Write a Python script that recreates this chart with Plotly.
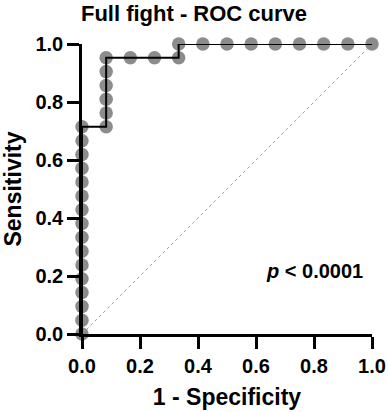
import plotly.graph_objects as go

# ROC points (1 - specificity, sensitivity)
fpr = [0.0, 0.0, 0.0, 0.0, 0.0, 0.0, 0.0, 0.0, 0.0, 0.0, 0.0, 0.0, 0.0, 0.0, 0.0, 0.0,
       0.0833, 0.0833, 0.0833, 0.0833, 0.0833, 0.0833,
       0.1667, 0.25, 0.3333,
       0.3333, 0.4167, 0.5, 0.5833, 0.6667, 0.75, 0.8333, 0.9167, 1.0]
tpr = [0.0, 0.0476, 0.0952, 0.1429, 0.1905, 0.2381, 0.2857, 0.3333, 0.381, 0.4286,
       0.4762, 0.5238, 0.5714, 0.619, 0.6667, 0.7143,
       0.7143, 0.7619, 0.8095, 0.8571, 0.9048, 0.9524,
       0.9524, 0.9524, 0.9524,
       1.0, 1.0, 1.0, 1.0, 1.0, 1.0, 1.0, 1.0, 1.0]
diag_x = [0.0, 1.0]
diag_y = [0.0, 1.0]
tick_vals = [0.0, 0.2, 0.4, 0.6, 0.8, 1.0]
tick_text = ["0.0", "0.2", "0.4", "0.6", "0.8", "1.0"]

FONT = "Liberation Sans, Arial, sans-serif"

fig = go.Figure()
fig.add_trace(go.Scatter(x=diag_x, y=diag_y, mode="lines",
                         line=dict(color="#c98a98", width=1, dash="dot"),
                         hoverinfo="skip", cliponaxis=False))
fig.add_trace(go.Scatter(x=fpr, y=tpr, mode="markers",
                         marker=dict(color="#8c8c8c", size=13.5, line=dict(width=0)),
                         cliponaxis=False))
fig.add_trace(go.Scatter(x=fpr, y=tpr, mode="lines",
                         line=dict(color="black", width=2),
                         cliponaxis=False))

axis_common = dict(
    range=[0, 1], tickvals=tick_vals, ticktext=tick_text,
    showline=True, linecolor="black", linewidth=2.5,
    ticks="outside", ticklen=12, tickwidth=2.5, tickcolor="black",
    showgrid=False, zeroline=False, automargin=False,
    tickfont=dict(family=FONT, size=20, color="black", weight="bold"),
)

fig.update_layout(
    width=388, height=412,
    margin=dict(l=82, r=16, t=44, b=78),
    paper_bgcolor="white", plot_bgcolor="white",
    showlegend=False,
    title=dict(text="<b>Full fight - ROC curve</b>", x=0.5, xanchor="center",
               y=1 - 13 / 412, yanchor="middle",
               font=dict(family=FONT, size=22, color="black")),
    xaxis=dict(**axis_common,
               title=dict(text="<b>1 - Specificity</b>", standoff=14,
                          font=dict(family=FONT, size=23, color="black"))),
    yaxis=dict(**axis_common,
               title=dict(text="<b>Sensitivity</b>", standoff=8,
                          font=dict(family=FONT, size=23, color="black"))),
)

fig.add_annotation(x=0.975, y=0.217, xref="x", yref="y", xanchor="right", yanchor="middle",
                   text="<b><i>p</i> < 0.0001</b>", showarrow=False,
                   font=dict(family=FONT, size=20, color="black"))

fig.write_html("out.html", config={"displayModeBar": False},
               post_script="document.body.style.margin='0';")
